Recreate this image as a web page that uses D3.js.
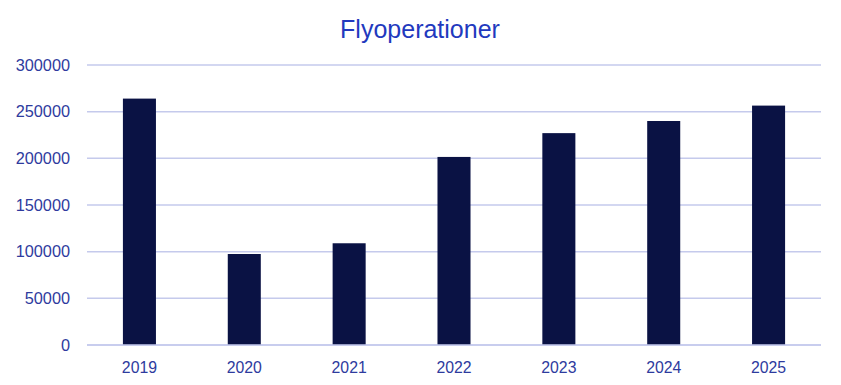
<!DOCTYPE html>
<html><head><meta charset="utf-8">
<script src="https://cdn.jsdelivr.net/npm/d3@7"></script>
<style>body{margin:0;background:#fff}</style>
</head><body>
<svg id="chart" width="841" height="385"></svg>
<script>
const title = "Flyoperationer";
const categories = ["2019","2020","2021","2022","2023","2024","2025"];
const values = [264000, 97500, 109000, 201500, 227000, 240000, 256500];
const yTicks = [0, 50000, 100000, 150000, 200000, 250000, 300000];

const svg = d3.select("#chart");
const W = 841, H = 385;
const m = {left: 87, right: 20, top: 65, bottom: 40};
const x = d3.scaleBand().domain(categories).range([m.left, W - m.right]).paddingInner(0.685).paddingOuter(0.3425);
const y = d3.scaleLinear().domain([0, 300000]).range([H - m.bottom, m.top]);

svg.append("rect").attr("width", W).attr("height", H).attr("fill", "#fff");

const font = "'Liberation Sans', Arial, sans-serif";
const textColor = "#2E3B9E";

// gridlines
svg.append("g").selectAll("line").data(yTicks).join("line")
  .attr("x1", m.left).attr("x2", W - m.right)
  .attr("y1", d => y(d)).attr("y2", d => y(d))
  .attr("stroke", "#C5CAEC").attr("stroke-width", 1.5);

// y axis labels
const yAxis = d3.axisLeft(y).tickValues(yTicks).tickSize(0).tickPadding(17).tickFormat(d3.format("d"));
const yg = svg.append("g").attr("transform", `translate(${m.left},0)`).call(yAxis);
yg.select(".domain").remove();
yg.selectAll("text").attr("fill", textColor).style("font-family", font).style("font-size", "16.3px");

// bars
svg.append("g").selectAll("rect").data(values).join("rect")
  .attr("x", (d, i) => x(categories[i]))
  .attr("width", x.bandwidth())
  .attr("y", d => y(d))
  .attr("height", d => y(0) - y(d))
  .attr("fill", "#0A1244");

// baseline
svg.append("line").attr("x1", m.left).attr("x2", W - m.right)
  .attr("y1", y(0)).attr("y2", y(0)).attr("stroke", "#C5CAEC").attr("stroke-width", 1.5);

// x axis
const xAxis = d3.axisBottom(x).tickSize(0).tickPadding(17);
const xg = svg.append("g").attr("transform", `translate(0,${y(0)})`).call(xAxis);
xg.select(".domain").remove();
xg.selectAll("text").attr("fill", textColor).style("font-family", font).style("font-size", "15.8px");

// title
svg.append("text").attr("x", 420).attr("y", 38).attr("text-anchor", "middle")
  .attr("fill", "#2239BE").style("font-family", font).style("font-size", "25px")
  .text(title);
</script>
</body></html>
